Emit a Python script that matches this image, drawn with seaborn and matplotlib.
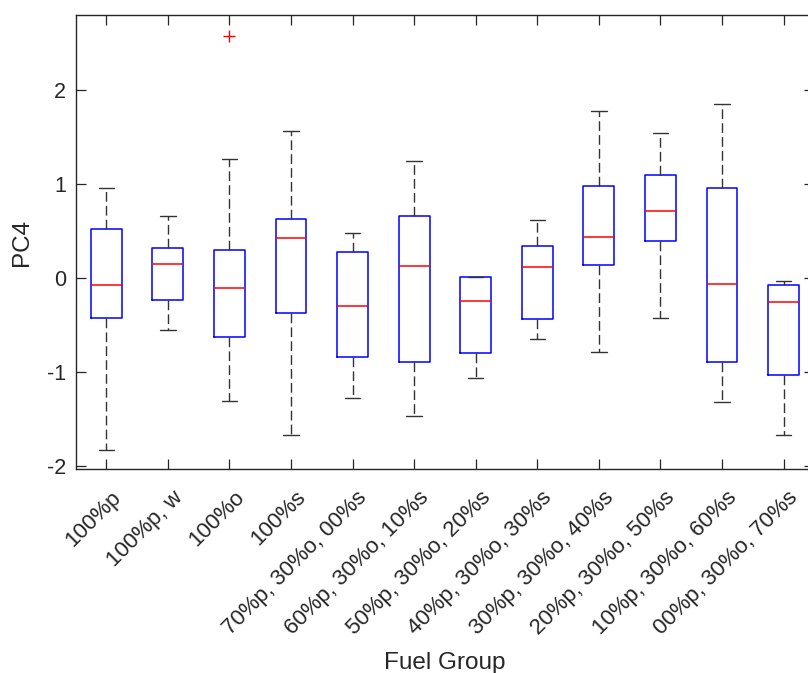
import matplotlib
matplotlib.use("Agg")
import matplotlib.pyplot as plt
import matplotlib.transforms as mtransforms
import numpy as np
import pandas as pd
import seaborn as sns

# Fuel blend groups along the x axis
groups = [
    "100%p", "100%p, w", "100%o", "100%s",
    "70%p, 30%o, 00%s", "60%p, 30%o, 10%s", "50%p, 30%o, 20%s",
    "40%p, 30%o, 30%s", "30%p, 30%o, 40%s", "20%p, 30%o, 50%s",
    "10%p, 30%o, 60%s", "00%p, 30%o, 70%s",
]

# Five-number summaries of PC4 per group
lower_whisker = [-1.82, -0.55, -1.30, -1.67, -1.27, -1.46, -1.06, -0.64, -0.78, -0.42, -1.31, -1.67]
q1 = [-0.42, -0.23, -0.62, -0.37, -0.84, -0.89, -0.79, -0.43, 0.14, 0.40, -0.89, -1.03]
median = [-0.07, 0.15, -0.10, 0.43, -0.29, 0.13, -0.245, 0.12, 0.44, 0.72, -0.06, -0.25]
q3 = [0.53, 0.32, 0.30, 0.63, 0.28, 0.66, 0.02, 0.34, 0.98, 1.10, 0.96, -0.07]
upper_whisker = [0.96, 0.66, 1.27, 1.57, 0.48, 1.25, 0.02, 0.62, 1.78, 1.55, 1.85, -0.03]
outliers = [[], [], [2.58], [], [], [], [], [], [], [], [], []]

# Long-form table whose quartiles and whisker ends reproduce the summaries
rows = []
for g, lo, a, m, b, hi, out in zip(groups, lower_whisker, q1, median, q3,
                                   upper_whisker, outliers):
    vals = [lo, a, a, m, m, b, b, hi] + list(out)
    rows += [{"Fuel Group": g, "PC4": v} for v in vals]
df = pd.DataFrame(rows)

sns.set_style("ticks")
plt.rcParams["font.family"] = ["Liberation Sans", "DejaVu Sans"]
plt.rcParams["axes.unicode_minus"] = False

ink = "#262626"
fig = plt.figure(figsize=(8.08, 6.73), dpi=100)
W, H = 808, 673
left, right, top, bottom = 75.5, 814.4, 14.7, 469.3
ax = fig.add_axes([left / W, 1 - bottom / H, (right - left) / W, (bottom - top) / H])

sns.boxplot(
    data=df, x="Fuel Group", y="PC4", order=groups, ax=ax,
    width=0.5, fill=False, color="#0000ff", linewidth=1.0, whis=1.5,
    boxprops={"color": "#0000ff", "linewidth": 1.1},
    medianprops={"color": "#ff0000", "linewidth": 1.1},
    whiskerprops={"color": "#333333", "linestyle": (0, (7, 3)), "linewidth": 1.0},
    capprops={"color": "#333333", "linewidth": 1.0},
    flierprops={"marker": "+", "markeredgecolor": "#ff0000", "markerfacecolor": "none",
                "markersize": 9, "markeredgewidth": 1.0},
)

ax.set_xlim(-0.5, len(groups) - 0.5)
ax.set_ylim(-2.03, 2.804)
ax.set_yticks([-2, -1, 0, 1, 2])
ax.set_yticklabels(["-2", "-1", "0", "1", "2"])

for s in ax.spines.values():
    s.set_visible(True)
    s.set_color(ink)
    s.set_linewidth(1.0)

ax.tick_params(axis="both", direction="in", length=7, width=0.9, color=ink,
               labelcolor=ink, labelsize=15.5, top=True, right=True)
ax.tick_params(axis="y", pad=7)
ax.tick_params(axis="x", pad=12.5, labelsize=16)

ax.set_xticks(range(len(groups)))
ax.set_xticklabels(groups, rotation=45, ha="right", va="top", rotation_mode="anchor")
shift = mtransforms.ScaledTranslation(4 / 100, 0, fig.dpi_scale_trans)
for lbl in ax.get_xticklabels():
    lbl.set_transform(lbl.get_transform() + shift)

ax.set_xlabel("Fuel Group", fontsize=17.5, color=ink, labelpad=10)
ax.set_ylabel("PC4", fontsize=17.5, color=ink, labelpad=10)

fig.savefig("out.png", dpi=100, facecolor="white")
